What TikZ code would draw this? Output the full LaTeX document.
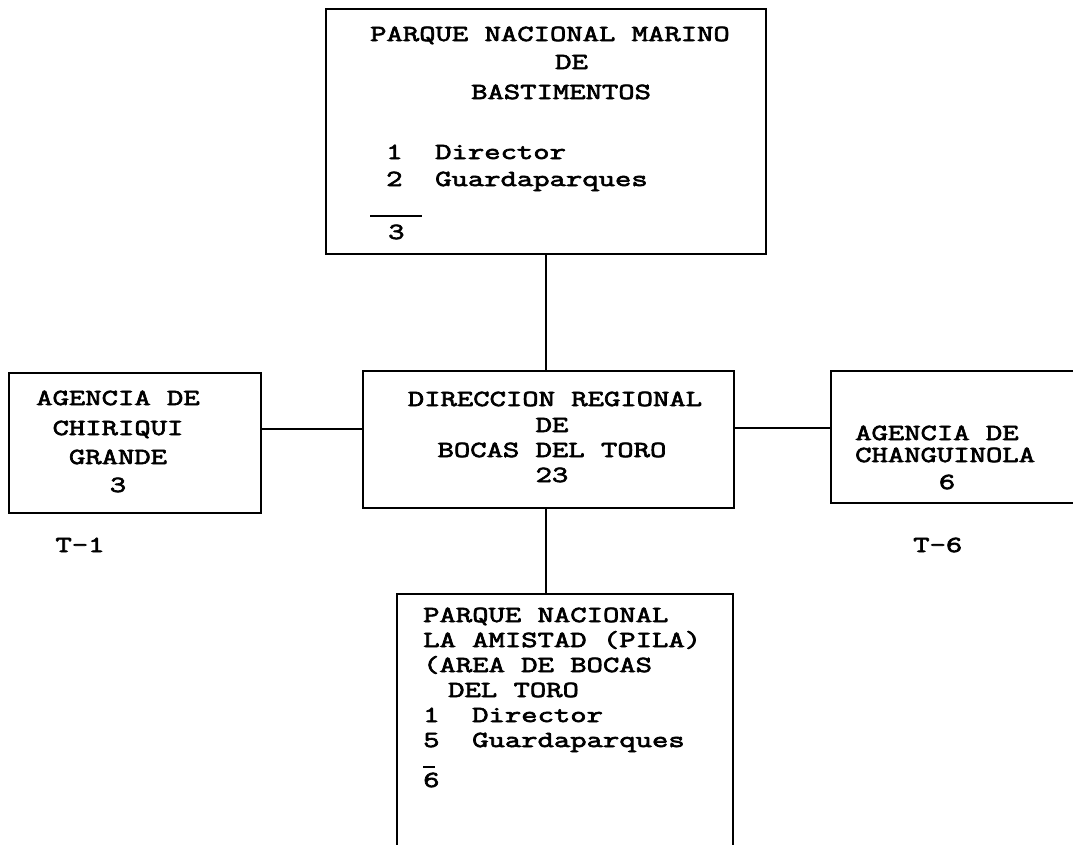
\documentclass[tikz,border=0pt]{standalone}
\usepackage{fontspec}
\newfontfamily\tw[FakeStretch=1.38,FakeBold=3]{Latin Modern Mono}
\begin{document}
\begin{tikzpicture}[x=1pt,y=-1pt,
  box/.style={draw,line width=1.6pt,inner sep=0pt,anchor=north west},
  txt/.style={font={\tw\fontsize{23pt}{25pt}\selectfont},inner sep=0pt},
  conn/.style={line width=1.6pt},
  rule/.style={line width=1.4pt}]
\useasboundingbox (0,0) rectangle (1073,844);
\clip (0,0) rectangle (1073,844);
% boxes
\node[box,minimum width=440pt,minimum height=245pt] (top) at (325,8) {};
\node[box,minimum width=371pt,minimum height=137pt] (ctr) at (362,370) {};
\node[box,minimum width=252pt,minimum height=140pt] (lft) at (8,372) {};
\node[box,minimum width=260pt,minimum height=132pt] (rgt) at (830,370) {};
\node[box,minimum width=336pt,minimum height=300pt] (bot) at (396,593) {};
% connectors
\draw[conn] (top.south) -- (top.south |- ctr.north);
\draw[conn] (ctr.south -| top.south) -- (top.south |- bot.north);
\draw[conn] (lft.east |- 0,429) -- (ctr.west |- 0,429);
\draw[conn] (ctr.east |- 0,428) -- (rgt.west |- 0,428);
% top box text
\node[txt,anchor=base west] (a1) at (370,41) {PARQUE NACIONAL MARINO};
\node[txt,anchor=base west] (a2) at (555,69) {DE};
\node[txt,anchor=base west] (a3) at (471,99) {BASTIMENTOS};
\node[txt,anchor=base west] (a4) at (386,159) {1~~Director};
\node[txt,anchor=base west] (a5) at (386,186) {2~~Guardaparques};
\node[txt,anchor=base west] (a6) at (388,239) {3};
\draw[rule] (370,216) -- (422,216);
% center box text
\node[txt,anchor=base] (b1) at (555,406) {DIRECCION REGIONAL};
\node[txt,anchor=base] (b2) at (552,432) {DE};
\node[txt,anchor=base] (b3) at (552,457) {BOCAS DEL TORO};
\node[txt,anchor=base] (b4) at (552,482) {23};
% left box text
\node[txt,anchor=base] (c1) at (118,405) {AGENCIA DE};
\node[txt,anchor=base] (c2) at (118,435) {CHIRIQUI};
\node[txt,anchor=base] (c3) at (118,464) {GRANDE};
\node[txt,anchor=base] (c4) at (118,492) {3};
\node[txt,anchor=base] (c5) at (80,552) {T-1};
% right box text
\node[txt,anchor=base west] (d1) at (855,440) {AGENCIA DE};
\node[txt,anchor=base west] (d2) at (855,462) {CHANGUINOLA};
\node[txt,anchor=base] (d3) at (947,489) {6};
\node[txt,anchor=base west] (d4) at (913,552) {T-6};
% bottom box text
\node[txt,anchor=base west] (e1) at (423,622) {PARQUE NACIONAL};
\node[txt,anchor=base west] (e2) at (423,647) {LA AMISTAD (PILA)};
\node[txt,anchor=base west] (e3) at (423,672) {(AREA DE BOCAS};
\node[txt,anchor=base west] (e4) at (448,697) {DEL TORO};
\node[txt,anchor=base west] (e5) at (423,722) {1~~Director};
\node[txt,anchor=base west] (e6) at (423,747) {5~~Guardaparques};
\node[txt,anchor=base west] (e7) at (423,787) {6};
\draw[rule] (423,767) -- (435,767);
\end{tikzpicture}
\end{document}
